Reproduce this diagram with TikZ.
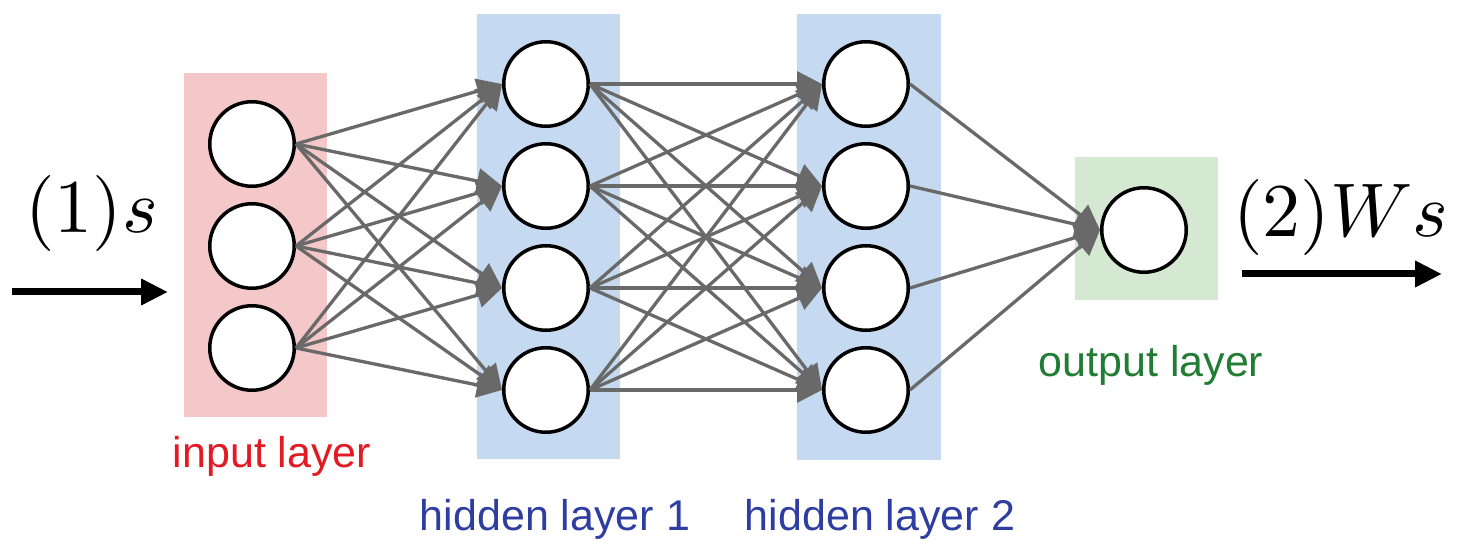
\documentclass[tikz,border=0pt]{standalone}
\usepackage[no-math]{fontspec}
\setmainfont{Liberation Sans}
\usepackage{graphicx}
\usetikzlibrary{arrows.meta}
\definecolor{pinkbg}{RGB}{244,199,201}
\definecolor{bluebg}{RGB}{197,217,240}
\definecolor{greenbg}{RGB}{213,233,210}
\definecolor{edgegray}{RGB}{105,105,105}
\definecolor{redtxt}{RGB}{226,26,36}
\definecolor{bluetxt}{RGB}{46,62,160}
\definecolor{greentxt}{RGB}{34,125,52}
\begin{document}
\begin{tikzpicture}[x=1pt,y=-1pt,
  neuron/.style={circle,draw=black,fill=white,line width=3.5pt,minimum size=84.5pt,inner sep=0pt},
  conn/.style={draw=edgegray,fill=edgegray,line width=3.3pt,-{Triangle[length=25pt,width=25pt]}},
  bigarrow/.style={draw=black,line width=7pt,-{Triangle[length=27pt,width=25pt]}},
  lab/.style={font=\fontsize{43}{50}\selectfont,anchor=base,inner sep=0pt},
  mathlab/.style={anchor=base west,inner sep=0pt}]
\useasboundingbox (0,0) rectangle (1473,553);
% layer backgrounds
\fill[pinkbg] (184,73) rectangle (327,417);
\fill[bluebg] (477,14) rectangle (620,459);
\fill[bluebg] (797,14) rectangle (941,460);
\fill[greenbg] (1075,157) rectangle (1218,300);
% neurons
\foreach \i/\y in {1/144,2/246,3/348} \node[neuron] (i\i) at (252,\y) {};
\foreach \i/\y in {1/84,2/186,3/288,4/390} \node[neuron] (a\i) at (546,\y) {};
\foreach \i/\y in {1/84,2/186,3/288,4/390} \node[neuron] (b\i) at (866,\y) {};
\node[neuron] (o) at (1144,230) {};
% connections
\foreach \i in {1,2,3} \foreach \j in {1,...,4} \draw[conn] (i\i.east) -- (a\j.west);
\foreach \i in {1,...,4} \foreach \j in {1,...,4} \draw[conn] (a\i.east) -- (b\j.west);
\foreach \i in {1,...,4} \draw[conn] (b\i.east) -- (o.west);
% labels
\node[lab,text=redtxt] (lin) at (272,467) {input layer};
\node[lab,text=bluetxt] (lh1) at (555,530) {hidden layer 1};
\node[lab,text=bluetxt] (lh2) at (880,530) {hidden layer 2};
\node[lab,text=greentxt] (lout) at (1151,377) {output layer};
% math and big arrows
\node[mathlab] (m1) at (25,233) {\scalebox{7.6}{$(1)s$}};
\node[mathlab] (m2) at (1233,237) {\scalebox{7.6}{$(2)W s$}};
\coordinate (s1) at (12,292);
\coordinate (e1) at (168,292);
\draw[bigarrow] (s1) -- (e1);
\coordinate (s2) at (1242,274);
\coordinate (e2) at (1442,274);
\draw[bigarrow] (s2) -- (e2);
\end{tikzpicture}
\end{document}
